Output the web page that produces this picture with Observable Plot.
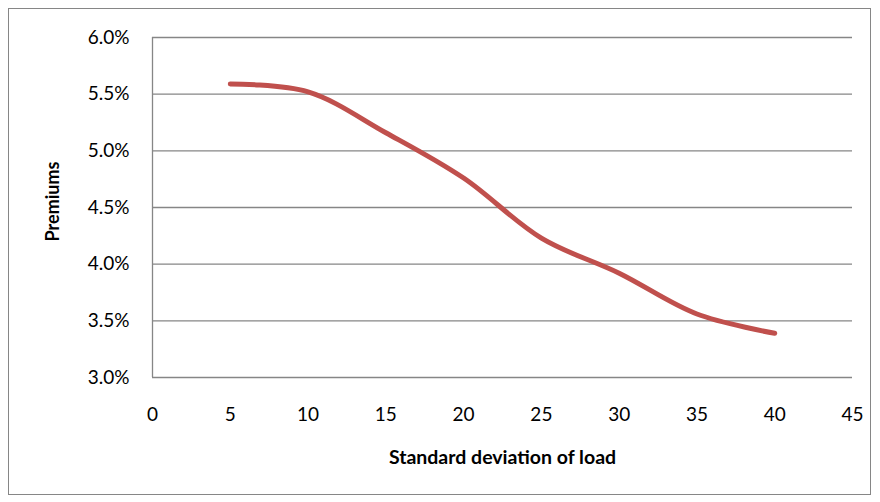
<!DOCTYPE html>
<html>
<head>
<meta charset="utf-8">
<script src="https://cdn.jsdelivr.net/npm/d3@7"></script>
<script src="https://cdn.jsdelivr.net/npm/@observablehq/plot@0.6"></script>
<style>
  html, body { margin: 0; padding: 0; background: #fff; }
  #chart svg { display: block; }
</style>
</head>
<body>
<div id="chart"></div>
<script>
// Standard deviation of load vs. premium
const loadSd = [5, 10, 15, 20, 25, 30, 35, 40];
const premiums = [0.0559, 0.0552, 0.0516, 0.0476, 0.0423, 0.0392, 0.0356, 0.0339];
const xTicks = [0, 5, 10, 15, 20, 25, 30, 35, 40, 45];
const yTicks = [0.030, 0.035, 0.040, 0.045, 0.050, 0.055, 0.060];
const xTitle = "Standard deviation of load";
const yTitle = "Premiums";

const rows = loadSd.map((x, i) => ({x, y: premiums[i]}));
const font = "Lato, 'Open Sans', sans-serif";

const chart = Plot.plot({
  width: 880,
  height: 502,
  marginLeft: 152,
  marginRight: 28,
  marginTop: 37,
  marginBottom: 125,
  style: {fontFamily: font, fontSize: "19px", color: "#000", background: "#fff"},
  x: {domain: [0, 45], ticks: xTicks},
  y: {domain: [0.03, 0.06], ticks: yTicks},
  marks: [
    Plot.ruleY(yTicks, {x1: 0, x2: 45, stroke: "#868686", strokeWidth: 1.3, strokeOpacity: 1}),
    Plot.ruleX([0], {y1: 0.03, y2: 0.06, stroke: "#868686", strokeWidth: 1.3}),
    Plot.axisX({ticks: xTicks, tickSize: 0, tickPadding: 30, label: null,
      fontSize: 19, tickFormat: d => String(d)}),
    Plot.axisY({ticks: yTicks, tickSize: 0, tickPadding: 23, label: null,
      fontSize: 19, tickFormat: d3.format(".1%")}),
    Plot.text([xTitle], {frameAnchor: "bottom", dy: 86, fontWeight: "bold", fontSize: 19.5, fill: "#000"}),
    Plot.text([yTitle], {frameAnchor: "left", textAnchor: "middle", dx: -99, dy: -6, rotate: -90,
      fontWeight: "bold", fontSize: 18, fill: "#000"}),
    Plot.line(rows, {x: "x", y: "y", stroke: "#C0504D", strokeWidth: 5, curve: "catmull-rom",
      strokeLinecap: "round", strokeLinejoin: "round"})
  ]
});

// outer chart-area border
d3.select(chart).append("rect")
  .attr("x", 8.5).attr("y", 8.5).attr("width", 862).attr("height", 486)
  .attr("fill", "none").attr("stroke", "#868686").attr("stroke-width", 1);

document.getElementById("chart").appendChild(chart);
</script>
</body>
</html>
